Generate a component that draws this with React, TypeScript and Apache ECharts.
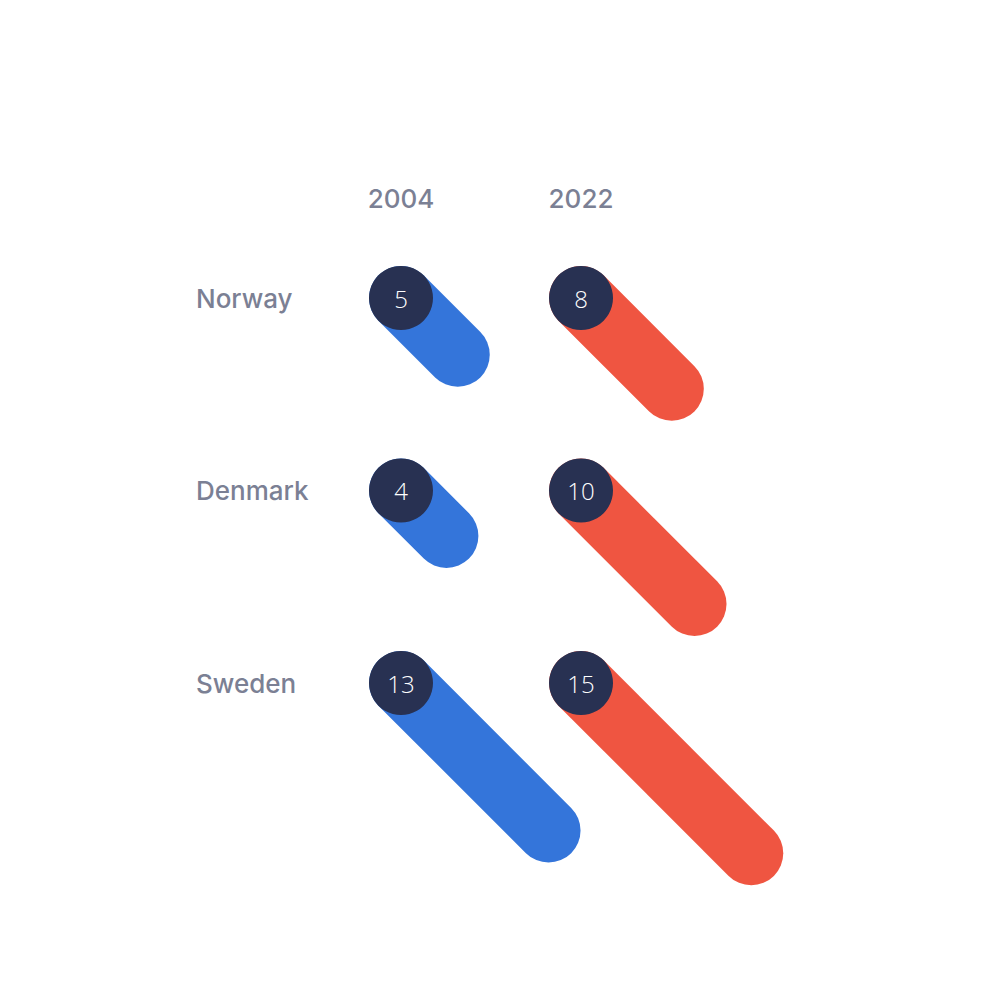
import React, { useEffect, useRef } from "react";
import * as echarts from "echarts";

const countries = ["Norway", "Denmark", "Sweden"];
const years = ["2004", "2022"];
const values2004 = [5, 4, 13];
const values2022 = [8, 10, 15];

const COL_X = [0, 15.86];
const BLUE = "#3475da";
const RED = "#ef5541";
const DARK = "#283152";
const GRAY = "#7b8094";
const FONT = "Inter, 'Noto Sans', sans-serif";

export default function App() {
  const ref = useRef<HTMLDivElement>(null);
  useEffect(() => {
    document.body.style.margin = "0";
    const chart = echarts.init(ref.current!, null, { renderer: "svg" });

    const makeBars = (vals: number[], k: number, color: string) => ({
      type: "custom",
      name: years[k],
      data: countries.map((c, i) => [COL_X[k], i, vals[i]]),
      renderItem: (params: any, api: any) => {
        const p = api.coord([api.value(0), api.value(1)]);
        const len = api.size([api.value(2), 0])[0];
        return {
          type: "group",
          children: [
            {
              type: "line",
              shape: { x1: p[0], y1: p[1], x2: p[0] + len, y2: p[1] + len },
              style: { stroke: color, lineWidth: 64, lineCap: "round" },
            },
            {
              type: "circle",
              shape: { cx: p[0], cy: p[1], r: 32 },
              style: { fill: DARK },
            },
            {
              type: "text",
              x: p[0],
              y: p[1],
              style: {
                text: String(api.value(2)),
                fill: "#ffffff",
                fontSize: 24,
                fontWeight: 300,
                fontFamily: "'Open Sans', sans-serif",
                align: "center",
                verticalAlign: "middle",
              },
            },
          ],
        };
      },
    });

    chart.setOption({
      animation: false,
      grid: { left: 401, width: 454, top: 201.75, height: 577.5 },
      xAxis: { type: "value", min: 0, max: 40, show: false },
      yAxis: {
        type: "category",
        data: countries,
        inverse: true,
        axisLine: { show: false },
        axisTick: { show: false },
        splitLine: { show: false },
        axisLabel: {
          align: "left",
          margin: 205,
          color: GRAY,
          fontSize: 26,
          fontWeight: 500,
          fontFamily: FONT,
        },
      },
      series: [
        makeBars(values2004, 0, BLUE),
        makeBars(values2022, 1, RED),
        {
          type: "custom",
          data: years.map((y, k) => [COL_X[k], 0]),
          renderItem: (params: any, api: any) => {
            const p = api.coord([api.value(0), api.value(1)]);
            return {
              type: "text",
              x: p[0],
              y: p[1] - 100,
              style: {
                text: years[params.dataIndex],
                fill: GRAY,
                fontSize: 26,
                fontWeight: 500,
                fontFamily: FONT,
                align: "center",
                verticalAlign: "middle",
              },
            };
          },
        },
      ],
    });
    return () => chart.dispose();
  }, []);
  return <div ref={ref} style={{ width: 1000, height: 1000 }} />;
}
